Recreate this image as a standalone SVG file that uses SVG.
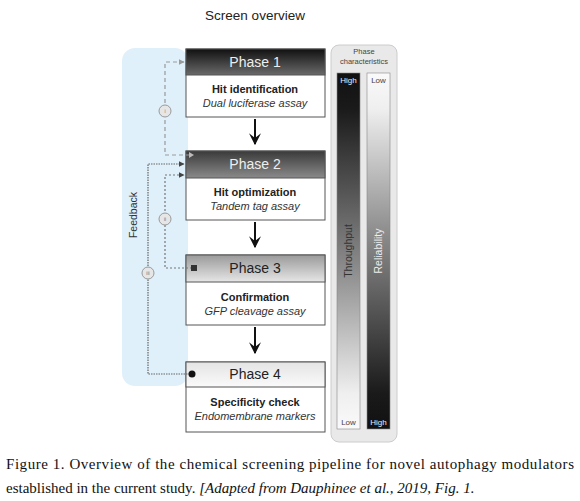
<svg xmlns="http://www.w3.org/2000/svg" width="580" height="501" viewBox="0 0 580 501">
<defs>
<linearGradient id="g1" x1="0" y1="0" x2="0" y2="1"><stop offset="0" stop-color="#111"/><stop offset="1" stop-color="#6a6a6a"/></linearGradient>
<linearGradient id="g2" x1="0" y1="0" x2="0" y2="1"><stop offset="0" stop-color="#3a3a3a"/><stop offset="1" stop-color="#8a8a8a"/></linearGradient>
<linearGradient id="g3" x1="0" y1="0" x2="0" y2="1"><stop offset="0" stop-color="#9a9a9a"/><stop offset="1" stop-color="#e6e6e6"/></linearGradient>
<linearGradient id="g4" x1="0" y1="0" x2="0" y2="1"><stop offset="0" stop-color="#e4e4e4"/><stop offset="1" stop-color="#fafafa"/></linearGradient>
<linearGradient id="tp" x1="0" y1="0" x2="0" y2="1"><stop offset="0" stop-color="#111"/><stop offset="0.1" stop-color="#1a1a1a"/><stop offset="0.55" stop-color="#8c8c8c"/><stop offset="0.9" stop-color="#efefef"/><stop offset="1" stop-color="#fafafa"/></linearGradient>
<linearGradient id="rl" x1="0" y1="0" x2="0" y2="1"><stop offset="0" stop-color="#fafafa"/><stop offset="0.1" stop-color="#efefef"/><stop offset="0.45" stop-color="#8c8c8c"/><stop offset="0.9" stop-color="#1a1a1a"/><stop offset="1" stop-color="#111"/></linearGradient>
<marker id="ah" viewBox="0 0 10 10" refX="9" refY="5" markerWidth="5" markerHeight="5" orient="auto"><path d="M0,0 L10,5 L0,10 z" fill="#444"/></marker>
<marker id="ahl" viewBox="0 0 10 10" refX="9" refY="5" markerWidth="5" markerHeight="5" orient="auto"><path d="M0,0 L10,5 L0,10 z" fill="#999"/></marker>
<marker id="big" viewBox="0 0 10 10" refX="9" refY="5" markerWidth="6" markerHeight="6" orient="auto"><path d="M0,0 L10,5 L0,10 L4,5 z" fill="#111"/></marker>
</defs>
<style>
text{font-family:"Liberation Sans",Arial,sans-serif}
.box{fill:#fff;stroke:#555;stroke-width:1}
.hd{stroke:#555;stroke-width:1}
.ph{font-size:14px;text-anchor:middle}
.b{font-size:11px;font-weight:bold;text-anchor:middle;fill:#222}
.it{font-size:11px;font-style:italic;text-anchor:middle;fill:#333}
.conn{fill:none;stroke-width:1.2}
.circ{fill:#e6e6e6;stroke:#999;stroke-width:1}
.cl{font-size:5px;text-anchor:middle;fill:#777}
.cap{font-family:"Liberation Serif","Times New Roman",serif;font-size:15px;fill:#111}
.sm{font-size:7.5px;text-anchor:middle;fill:#444}
</style>
<rect width="580" height="501" fill="#fff"/>
<text x="255" y="20" font-size="13.5" text-anchor="middle" fill="#222">Screen overview</text>

<rect x="122" y="48" width="66" height="338" rx="13" fill="#dff0fb"/>
<text transform="translate(137,215) rotate(-90)" font-size="10.5" text-anchor="middle" fill="#333">Feedback</text>

<g id="characteristics">
<rect x="331" y="45" width="66" height="397" rx="8" fill="#e9e9e9" stroke="#ccc"/>
<text x="364" y="54" class="sm">Phase</text>
<text x="364" y="64" class="sm">characteristics</text>
<rect x="337" y="73" width="23" height="356" fill="url(#tp)" stroke="#888" stroke-width="0.6"/>
<rect x="367" y="73" width="23" height="356" fill="url(#rl)" stroke="#888" stroke-width="0.6"/>
<text x="348.5" y="83" font-size="8" text-anchor="middle" fill="#eee">High</text>
<text x="378.5" y="83" font-size="8" text-anchor="middle" fill="#444">Low</text>
<text x="348.5" y="425" font-size="8" text-anchor="middle" fill="#444">Low</text>
<text x="378.5" y="425" font-size="8" text-anchor="middle" fill="#eee">High</text>
<text transform="translate(352,251) rotate(-90)" font-size="10.5" text-anchor="middle" fill="#333">Throughput</text>
<text transform="translate(382,251) rotate(-90)" font-size="10.5" text-anchor="middle" fill="#eee">Reliability</text>
</g>

<g id="phase1">
<rect x="186" y="49" width="139" height="68" class="box"/>
<rect x="186" y="49" width="139" height="26" fill="url(#g1)" class="hd"/>
<text x="255" y="67" class="ph" fill="#eee">Phase 1</text>
<text x="255" y="93" class="b">Hit identification</text>
<text x="255" y="107" class="it">Dual luciferase assay</text>
</g>
<g id="phase2">
<rect x="186" y="151" width="139" height="69" class="box"/>
<rect x="186" y="151" width="139" height="27" fill="url(#g2)" class="hd"/>
<text x="255" y="169" class="ph" fill="#eee">Phase 2</text>
<text x="255" y="196" class="b">Hit optimization</text>
<text x="255" y="210" class="it">Tandem tag assay</text>
</g>
<g id="phase3">
<rect x="186" y="255" width="139" height="70" class="box"/>
<rect x="186" y="255" width="139" height="27" fill="url(#g3)" class="hd"/>
<text x="255" y="273" class="ph" fill="#222">Phase 3</text>
<text x="255" y="301" class="b">Confirmation</text>
<text x="255" y="315" class="it">GFP cleavage assay</text>
</g>
<g id="phase4">
<rect x="186" y="362" width="139" height="70" class="box"/>
<rect x="186" y="362" width="139" height="25" fill="url(#g4)" class="hd"/>
<text x="255" y="379" class="ph" fill="#222">Phase 4</text>
<text x="255" y="406" class="b">Specificity check</text>
<text x="255" y="420" class="it">Endomembrane markers</text>
</g>

<g id="connectors">
<path d="M255,119 V144" stroke="#111" stroke-width="2" marker-end="url(#big)"/>
<path d="M255,222 V247" stroke="#111" stroke-width="2" marker-end="url(#big)"/>
<path d="M255,327 V353" stroke="#111" stroke-width="2" marker-end="url(#big)"/>
<path d="M190,155 H165 V62 H184" class="conn" stroke="#999" stroke-dasharray="4,3" marker-end="url(#ahl)"/>
<path d="M194,155 l-5,-3 v6 z" fill="#bbb"/>
<path d="M192,268 H165 V175 H184" class="conn" stroke="#777" stroke-dasharray="2,2" marker-end="url(#ah)"/>
<rect x="191" y="265" width="6" height="6" fill="#333"/>
<path d="M190,374 H148 V164 H184" class="conn" stroke="#666" stroke-dasharray="1.5,1" marker-end="url(#ah)"/>
<circle cx="192" cy="374" r="3.5" fill="#111"/>
<circle cx="165" cy="111" r="6" class="circ"/><text x="165" y="113" class="cl">i</text>
<circle cx="165" cy="219" r="6" class="circ"/><text x="165" y="221" class="cl">ii</text>
<circle cx="148" cy="273" r="6" class="circ"/><text x="148" y="275" class="cl">iii</text>
</g>

<text x="6" y="469" class="cap" textLength="568" lengthAdjust="spacing">Figure 1. Overview of the chemical screening pipeline for novel autophagy modulators</text>
<text x="6" y="493" class="cap">established in the current study. <tspan font-style="italic">[Adapted from Dauphinee et al., 2019, Fig. 1.</tspan></text>
</svg>
